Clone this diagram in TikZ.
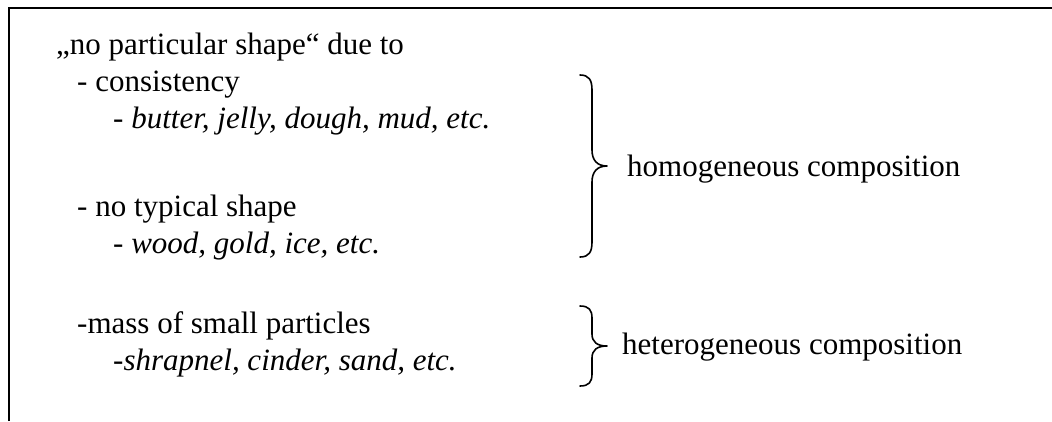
\documentclass[tikz,border=0pt]{standalone}
\usepackage{fontspec}
\setmainfont{Liberation Serif}
\begin{document}
\begin{tikzpicture}[x=1pt,y=-1pt,
  txt/.style={anchor=base west,inner sep=0pt,font=\fontsize{31}{36}\selectfont},
  bracepath/.style={line width=1.6pt,line cap=round,line join=round},
  frame/.style={line width=2pt}]
\useasboundingbox (0,0) rectangle (1052,421);
\fill[white] (0,0) rectangle (1052,421);
% frame (only top and left visible)
\coordinate (fbl) at (9,421);
\coordinate (ftl) at (9,8);
\coordinate (ftr) at (1052,8);
\draw[frame] (fbl) -- (ftl) -- (ftr);
% text lines
\node[txt] (l1) at (56,54) {„no particular shape“ due to};
\node[txt] (l2) at (77,91) {- consistency};
\node[txt] (l3) at (113,128) {- \textit{butter, jelly, dough, mud, etc.}};
\node[txt] (l4) at (77,216) {- no typical shape};
\node[txt] (l5) at (113,253) {- \textit{wood, gold, ice, etc.}};
\node[txt] (l6) at (77,333) {-mass of small particles};
\node[txt] (l7) at (113,370) {-\textit{shrapnel, cinder, sand, etc.}};
% braces
\draw[bracepath] (580,75) .. controls (589,75) and (592,80) .. (592,90)
  -- (592,150) .. controls (592,160) and (597,166) .. (607,166)
  .. controls (597,166) and (592,172) .. (592,182)
  -- (592,242) .. controls (592,252) and (589,257) .. (580,257);
\node[txt] (homo) at (627,176) {homogeneous composition};
\draw[bracepath] (580,306) .. controls (589,306) and (592,310) .. (592,318)
  -- (592,334) .. controls (592,342) and (597,346) .. (607,346)
  .. controls (597,346) and (592,350) .. (592,358)
  -- (592,374) .. controls (592,382) and (589,386) .. (580,386);
\node[txt] (hetero) at (622,354) {heterogeneous composition};
\end{tikzpicture}
\end{document}
